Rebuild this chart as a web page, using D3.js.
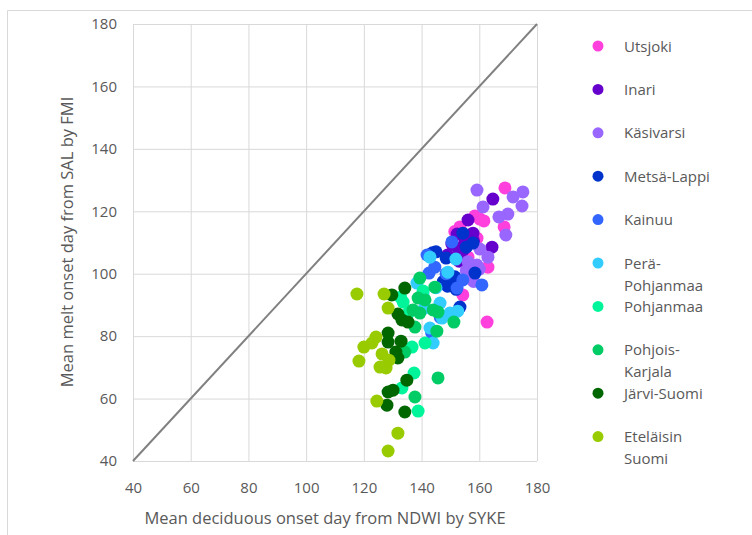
<!DOCTYPE html>
<html>
<head>
<meta charset="utf-8">
<script src="https://cdn.jsdelivr.net/npm/d3@7"></script>
<style>
  body { margin: 0; background: #fff; }
  svg text { font-family: "Open Sans", "Liberation Sans", sans-serif; fill: #595959; }
</style>
</head>
<body>
<svg id="chart"></svg>
<script>
const w = 752;
const h = 535;

// series names and legend lines
const seriesNames = ["Utsjoki", "Inari", "Käsivarsi", "Metsä-Lappi", "Kainuu", "Perä-Pohjanmaa", "Pohjanmaa", "Pohjois-Karjala", "Järvi-Suomi", "Eteläisin Suomi"];
const legendLines = [["Utsjoki"], ["Inari"], ["Käsivarsi"], ["Metsä-Lappi"], ["Kainuu"], ["Perä-", "Pohjanmaa"], ["Pohjanmaa"], ["Pohjois-", "Karjala"], ["Järvi-Suomi"], ["Eteläisin", "Suomi"]];
const seriesColors = ["#ff40dd", "#6600cc", "#9966ff", "#0033cc", "#3366ff", "#33ccff", "#00f59a", "#00cc66", "#006600", "#99cc00"];

const xTicks = [40, 60, 80, 100, 120, 140, 160, 180];
const yTicks = [40, 60, 80, 100, 120, 140, 160, 180];

// [NDWI onset, SAL onset] per region
const utsjoki = [[168.9,127.5],[160.2,117.5],[161.6,116.9],[168.6,115.0],[153.3,115.0],[159.2,111.4],[156.1,105.3],[163.0,102.1],[154.3,93.2],[162.7,84.5],[158.5,118.5],[151.5,113.5],[157.5,101.0]];
const inari = [[164.7,123.9],[156.1,117.2],[157.8,113.0],[152.3,112.7],[164.4,108.5],[152.6,108.2],[154.3,107.5],[150.5,109.5],[155.0,111.0],[158.0,110.5],[149.0,106.0],[153.0,104.0]];
const kasivarsi = [[159.2,126.8],[175.1,126.2],[171.7,124.6],[174.8,121.7],[161.3,121.4],[169.9,119.1],[166.8,118.2],[169.2,112.4],[160.2,107.9],[163.0,105.3],[159.2,102.8],[156.1,103.8],[160.0,101.5],[157.0,99.0],[155.5,101.0],[158.0,97.5]];
const metsaLappi = [[154.3,113.0],[157.8,109.8],[148.5,105.0],[158.5,100.2],[153.3,89.3],[143.8,106.7],[151.5,99.0],[149.0,96.0],[145.0,107.0],[155.5,108.5],[152.0,95.0],[147.5,97.5]];
const kainuu = [[150.5,110.2],[144.6,102.1],[141.9,106.0],[142.6,100.2],[154.3,98.0],[160.9,96.4],[152.3,95.4],[143.5,81.0],[146.5,86.0],[148.5,100.0]];
const peraPohjanmaa = [[142.9,105.3],[151.9,104.7],[149.1,100.5],[138.4,97.0],[146.4,90.6],[147.1,85.8],[142.9,82.6],[149.8,87.4],[144.0,77.8],[140.5,93.5],[145.0,95.5],[141.0,89.0],[152.5,88.0]];
const pohjanmaa = [[133.6,90.9],[137.4,68.2],[133.2,63.4],[138.8,56.0],[141.2,77.8],[136.7,76.5],[132.7,92.5],[135.5,87.5],[140.5,94.5]];
const pohjoisKarjala = [[138.8,92.2],[141.2,91.6],[137.0,88.4],[139.4,87.4],[144.0,88.4],[145.7,87.7],[137.7,82.9],[145.3,81.6],[151.2,84.5],[145.7,66.6],[137.7,60.5],[139.4,98.6],[144.6,95.7],[134.2,74.9]];
const jarviSuomi = [[129.7,93.2],[134.2,95.4],[131.8,87.1],[133.2,85.2],[135.3,84.5],[128.4,81.0],[128.4,78.1],[132.9,78.4],[131.1,74.9],[131.8,73.0],[134.9,65.9],[128.4,62.1],[130.1,62.7],[128.0,57.9],[134.2,55.7]];
const etelaisinSuomi = [[117.6,93.5],[127.0,93.5],[128.4,89.0],[124.2,79.7],[122.8,77.8],[120.0,76.5],[118.3,72.0],[126.3,74.3],[128.7,72.3],[125.6,70.1],[127.7,69.8],[124.5,59.2],[131.8,48.9],[128.4,43.2]];

const seriesData = [utsjoki, inari, kasivarsi, metsaLappi, kainuu, peraPohjanmaa, pohjanmaa, pohjoisKarjala, jarviSuomi, etelaisinSuomi];

const svg = d3.select("#chart").attr("width", w).attr("height", h);

// outer chart border (only left and top visible)
svg.append("path").attr("d", "M7.5," + h + "V10.5H" + w)
  .attr("fill", "none").attr("stroke", "#d9d9d9").attr("stroke-width", 1);

const xScale = d3.scaleLinear().domain([40, 180]).range([133, 537]);
const yScale = d3.scaleLinear().domain([40, 180]).range([461, 24]);

// gridlines
svg.append("g").attr("class", "grid")
  .attr("transform", "translate(0," + yScale(40) + ")")
  .call(d3.axisBottom(xScale).tickValues(xTicks).tickSize(-(yScale(40) - yScale(180))).tickFormat(""))
  .call(g => g.select(".domain").remove())
  .call(g => g.selectAll("line").attr("stroke", "#d9d9d9"));
svg.append("g").attr("class", "grid")
  .attr("transform", "translate(" + xScale(40) + ",0)")
  .call(d3.axisLeft(yScale).tickValues(yTicks).tickSize(-(xScale(180) - xScale(40))).tickFormat(""))
  .call(g => g.select(".domain").remove())
  .call(g => g.selectAll("line").attr("stroke", "#d9d9d9"));

// tick labels
const axisX = d3.axisBottom(xScale).tickValues(xTicks).tickSize(0).tickPadding(21);
svg.append("g").attr("transform", "translate(0," + yScale(40) + ")").call(axisX)
  .call(g => g.select(".domain").remove())
  .call(g => g.selectAll("text").attr("font-size", 15).attr("fill", "#595959"));
const axisY = d3.axisLeft(yScale).tickValues(yTicks).tickSize(0).tickPadding(16);
svg.append("g").attr("transform", "translate(" + xScale(40) + ",0)").call(axisY)
  .call(g => g.select(".domain").remove())
  .call(g => g.selectAll("text").attr("font-size", 15).attr("fill", "#595959"));

// 1:1 line
svg.append("line")
  .attr("x1", xScale(40)).attr("y1", yScale(40))
  .attr("x2", xScale(180)).attr("y2", yScale(180))
  .attr("stroke", "#808080").attr("stroke-width", 2);

// points, drawn in series order
seriesData.forEach((pts, i) => {
  svg.append("g").selectAll("circle").data(pts).enter().append("circle")
    .attr("cx", d => xScale(d[0]))
    .attr("cy", d => yScale(d[1]))
    .attr("r", 6.5)
    .attr("fill", seriesColors[i]);
});

// axis titles
svg.append("text").attr("x", 325).attr("y", 524).attr("text-anchor", "middle")
  .attr("font-size", 16.5).text("Mean deciduous onset day from NDWI by SYKE");
svg.append("text").attr("transform", "translate(73,242) rotate(-90)").attr("text-anchor", "middle")
  .attr("font-size", 16.5).text("Mean melt onset day from SAL by FMI");

// legend
const legend = svg.append("g");
seriesNames.forEach((name, i) => {
  const ly = 46 + i * 43.4;
  legend.append("circle").attr("cx", 598).attr("cy", ly).attr("r", 5.5).attr("fill", seriesColors[i]);
  const t = legend.append("text").attr("x", 624).attr("y", ly + 5.5).attr("font-size", 15);
  legendLines[i].forEach((ln, j) => {
    t.append("tspan").attr("x", 624).attr("dy", j === 0 ? 0 : 22).text(ln);
  });
});
</script>
</body>
</html>
